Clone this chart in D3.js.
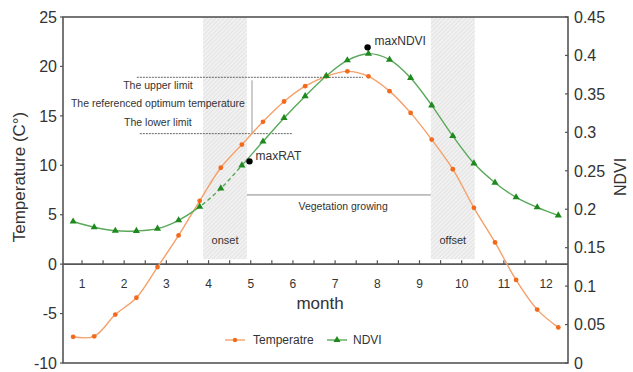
<!DOCTYPE html>
<html>
<head>
<meta charset="utf-8">
<script src="https://cdn.jsdelivr.net/npm/d3@7"></script>
<style>
  body { margin: 0; background: #fff; }
  svg { display: block; font-family: "Liberation Sans", Arial, sans-serif; }
</style>
</head>
<body>
<svg id="chart" width="633" height="372"></svg>
<script>
// half-month sample positions (in months)
const monthPos = [0.79, 1.29, 1.79, 2.29, 2.79, 3.29, 3.79, 4.29, 4.79, 5.29, 5.79, 6.29,
                  6.79, 7.29, 7.79, 8.29, 8.79, 9.29, 9.79, 10.29, 10.79, 11.29, 11.79, 12.29];
const temperature = [-7.35, -7.3, -5.1, -3.4, -0.3, 2.9, 6.4, 9.75, 12.1, 14.4, 16.45, 18.0,
                     19.0, 19.5, 19.0, 17.5, 15.3, 12.6, 9.6, 5.7, 2.2, -1.6, -4.6, -6.4];
const ndvi = [0.184, 0.1765, 0.172, 0.1717, 0.1747, 0.1856, 0.2033, 0.227, 0.257, 0.288, 0.3187, 0.347,
              0.3733, 0.3937, 0.4023, 0.3945, 0.3707, 0.3351, 0.2952, 0.2597, 0.2345, 0.2155, 0.2025, 0.192];
const monthLabels = [1, 2, 3, 4, 5, 6, 7, 8, 9, 10, 11, 12];
const tempTicks = [-10, -5, 0, 5, 10, 15, 20, 25];
const ndviTicks = [0, 0.05, 0.1, 0.15, 0.2, 0.25, 0.3, 0.35, 0.4, 0.45];
const phases = [
  { name: 'onset', from: 3.87, to: 4.91 },
  { name: 'offset', from: 9.27, to: 10.31 }
];

const svg = d3.select('#chart');
const pLeft = 63, pTop = 17, pRight = 568, pBottom = 363;
const textCol = '#333';
const axisCol = '#555';
const orange = '#f26a1b', orangeLine = '#f5a06a';
const green = '#1e8a1e', greenLine = '#5aa95a';

const x = d3.scaleLinear().domain([0.55, 12.52]).range([pLeft, pRight]);
const yT = d3.scaleLinear().domain([-10, 25]).range([pBottom, pTop]);
const yN = d3.scaleLinear().domain([0, 0.45]).range([pBottom, pTop]);

// hatch pattern for onset / offset
const defs = svg.append('defs');
const pat = defs.append('pattern')
  .attr('id', 'hatch')
  .attr('patternUnits', 'userSpaceOnUse')
  .attr('width', 3).attr('height', 3)
  .attr('patternTransform', 'rotate(45)');
pat.append('rect').attr('width', 3).attr('height', 3).attr('fill', '#f1f1f1');
pat.append('line').attr('x1', 0).attr('y1', 0).attr('x2', 0).attr('y2', 3)
  .attr('stroke', '#d6d6d6').attr('stroke-width', 1);

svg.selectAll('.phase').data(phases).enter().append('rect')
  .attr('x', d => x(d.from))
  .attr('y', pTop)
  .attr('width', d => x(d.to) - x(d.from))
  .attr('height', yT(0.5) - pTop)
  .attr('fill', 'url(#hatch)');

svg.selectAll('.phaseText').data(phases).enter().append('text')
  .attr('x', d => (x(d.from) + x(d.to)) / 2)
  .attr('y', 244)
  .attr('text-anchor', 'middle')
  .attr('font-size', 11)
  .attr('fill', textCol)
  .text(d => d.name);

// frame
svg.append('rect')
  .attr('x', pLeft).attr('y', pTop)
  .attr('width', pRight - pLeft).attr('height', pBottom - pTop)
  .attr('fill', 'none').attr('stroke', axisCol).attr('stroke-width', 1.6);

// zero line with month ticks
svg.append('line')
  .attr('x1', pLeft).attr('x2', pRight)
  .attr('y1', yT(0)).attr('y2', yT(0))
  .attr('stroke', axisCol).attr('stroke-width', 1.6);

const halfTicks = d3.range(1, 12.01, 0.5);
svg.selectAll('.mtick').data(halfTicks).enter().append('line')
  .attr('x1', d => x(d)).attr('x2', d => x(d))
  .attr('y1', yT(0)).attr('y2', yT(0) - 4)
  .attr('stroke', axisCol).attr('stroke-width', 1.2);

svg.selectAll('.mlabel').data(monthLabels).enter().append('text')
  .attr('x', d => x(d))
  .attr('y', 288)
  .attr('text-anchor', 'middle')
  .attr('font-size', 12)
  .attr('fill', textCol)
  .text(d => d);

// left axis
svg.selectAll('.ltick').data(tempTicks).enter().append('line')
  .attr('x1', pLeft - 3).attr('x2', pLeft)
  .attr('y1', d => yT(d)).attr('y2', d => yT(d))
  .attr('stroke', axisCol).attr('stroke-width', 1.2);
svg.selectAll('.llabel').data(tempTicks).enter().append('text')
  .attr('x', 57)
  .attr('y', d => yT(d))
  .attr('dy', '0.36em')
  .attr('text-anchor', 'end')
  .attr('font-size', 16)
  .attr('fill', textCol)
  .text(d => d);

// right axis
svg.selectAll('.rtick').data(ndviTicks).enter().append('line')
  .attr('x1', pRight - 3).attr('x2', pRight)
  .attr('y1', d => yN(d)).attr('y2', d => yN(d))
  .attr('stroke', axisCol).attr('stroke-width', 1.2);
svg.selectAll('.rlabel').data(ndviTicks).enter().append('text')
  .attr('x', 574)
  .attr('y', d => yN(d))
  .attr('dy', '0.36em')
  .attr('font-size', 16)
  .attr('fill', textCol)
  .text(d => d);

// axis titles
svg.append('text')
  .attr('transform', 'translate(25,177) rotate(-90)')
  .attr('text-anchor', 'middle')
  .attr('font-size', 17)
  .attr('fill', textCol)
  .text('Temperature (C°)');
svg.append('text')
  .attr('transform', 'translate(626,177) rotate(-90)')
  .attr('text-anchor', 'middle')
  .attr('font-size', 16)
  .attr('fill', textCol)
  .text('NDVI');
svg.append('text')
  .attr('x', 320).attr('y', 309)
  .attr('text-anchor', 'middle')
  .attr('font-size', 17)
  .attr('fill', textCol)
  .text('month');

// reference lines
function hline(m1, m2, t, dash, col) {
  svg.append('line')
    .attr('x1', x(m1)).attr('x2', x(m2))
    .attr('y1', yT(t)).attr('y2', yT(t))
    .attr('stroke', col).attr('stroke-width', 1)
    .attr('stroke-dasharray', dash);
}
hline(2.30, 7.66, 18.9, '2,1', '#666');
hline(2.37, 5.99, 13.2, '2,1', '#666');
hline(4.91, 9.27, 7.0, null, '#888');
svg.append('line')
  .attr('x1', x(5.03)).attr('x2', x(5.03))
  .attr('y1', yT(18.6)).attr('y2', yT(13.25))
  .attr('stroke', '#999').attr('stroke-width', 1);

const notes = [
  { text: 'The upper limit', t: 17.75 },
  { text: 'The referenced optimum temperature', t: 15.85 },
  { text: 'The lower limit', t: 13.95 }
];
svg.selectAll('.note').data(notes).enter().append('text')
  .attr('x', x(2.80))
  .attr('y', d => yT(d.t))
  .attr('text-anchor', 'middle')
  .attr('font-size', 10.5)
  .attr('fill', textCol)
  .text(d => d.text);

svg.append('text')
  .attr('x', x(7.19)).attr('y', yT(5.5))
  .attr('text-anchor', 'middle')
  .attr('font-size', 10.5)
  .attr('fill', textCol)
  .text('Vegetation growing');

// series
const tempData = monthPos.map((m, i) => ({ m, v: temperature[i] }));
const ndviData = monthPos.map((m, i) => ({ m, v: ndvi[i] }));

const tempLine = d3.line().x(d => x(d.m)).y(d => yT(d.v)).curve(d3.curveCatmullRom);
const ndviLine = d3.line().x(d => x(d.m)).y(d => yN(d.v)).curve(d3.curveCatmullRom);

svg.append('path').datum(tempData)
  .attr('d', tempLine)
  .attr('fill', 'none').attr('stroke', orangeLine).attr('stroke-width', 1.4);

// NDVI line: dashed across the onset window (points 6..8)
svg.append('path').datum(ndviData)
  .attr('d', ndviLine)
  .attr('fill', 'none').attr('stroke', greenLine).attr('stroke-width', 1.4)
  .each(function() {
    const path = this;
    const total = path.getTotalLength();
    function lenAt(px) {
      let lo = 0, hi = total;
      for (let k = 0; k < 30; k++) {
        const mid = (lo + hi) / 2;
        if (path.getPointAtLength(mid).x < px) lo = mid; else hi = mid;
      }
      return lo;
    }
    const a = lenAt(x(monthPos[6])), b = lenAt(x(monthPos[8]));
    const dashes = [a];
    let l = a;
    while (l + 7 < b) { dashes.push(3, 4); l += 7; }
    dashes.push(b - l, total, 0);
    d3.select(path).attr('stroke-dasharray', dashes.join(','));
  });

svg.selectAll('.tdot').data(tempData).enter().append('circle')
  .attr('cx', d => x(d.m)).attr('cy', d => yT(d.v))
  .attr('r', 2.4).attr('fill', orange);

const tri = d3.symbol().type(d3.symbolTriangle).size(22);
svg.selectAll('.ndot').data(ndviData).enter().append('path')
  .attr('d', tri)
  .attr('transform', d => `translate(${x(d.m)},${yN(d.v)})`)
  .attr('fill', green);

// max markers
svg.append('circle').attr('cx', x(4.97)).attr('cy', yT(10.4)).attr('r', 3.2).attr('fill', '#000');
svg.append('text').attr('x', x(4.97) + 6).attr('y', yT(10.4) - 1)
  .attr('font-size', 12).attr('fill', textCol).text('maxRAT');
svg.append('circle').attr('cx', x(7.77)).attr('cy', yN(0.4105)).attr('r', 3.2).attr('fill', '#000');
svg.append('text').attr('x', x(7.77) + 7).attr('y', yN(0.4105) - 2)
  .attr('font-size', 12).attr('fill', textCol).text('maxNDVI');

// legend
const lg = svg.append('g').attr('transform', 'translate(0,340)');
lg.append('line').attr('x1', 225).attr('x2', 245).attr('y1', 0).attr('y2', 0)
  .attr('stroke', orangeLine).attr('stroke-width', 1.4);
lg.append('circle').attr('cx', 235).attr('cy', 0).attr('r', 2.2).attr('fill', orange);
lg.append('text').attr('x', 253).attr('y', 0).attr('dy', '0.35em')
  .attr('font-size', 12).attr('fill', textCol).text('Temperatre');
lg.append('line').attr('x1', 327).attr('x2', 347).attr('y1', 0).attr('y2', 0)
  .attr('stroke', greenLine).attr('stroke-width', 1.4);
lg.append('path').attr('d', tri).attr('transform', 'translate(337,0)').attr('fill', green);
lg.append('text').attr('x', 353).attr('y', 0).attr('dy', '0.35em')
  .attr('font-size', 12).attr('fill', textCol).text('NDVI');
</script>
</body>
</html>
